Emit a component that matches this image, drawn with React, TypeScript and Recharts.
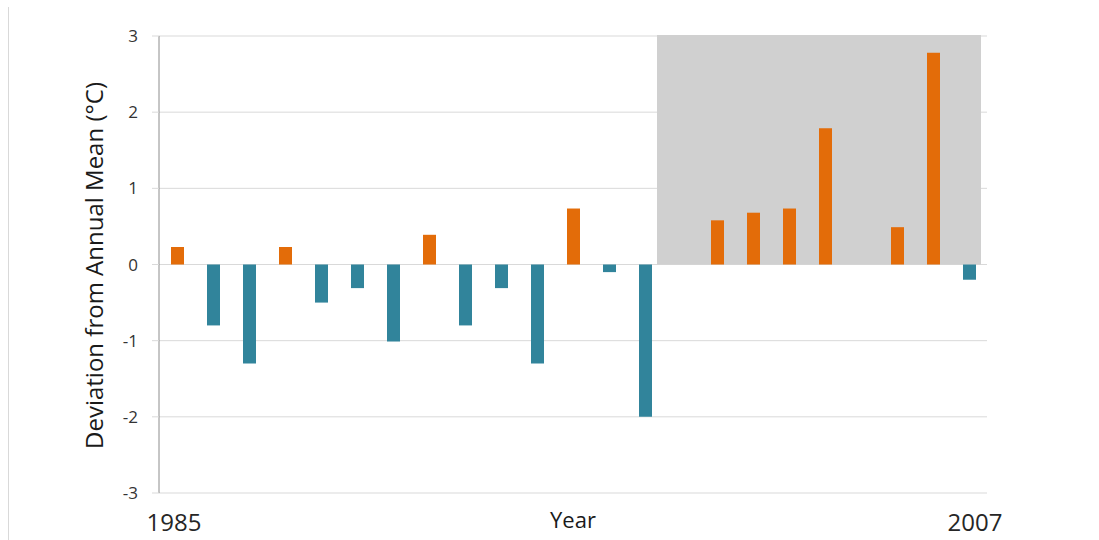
import React from "react";
import { ComposedChart, Bar, Cell, XAxis, YAxis, CartesianGrid, ReferenceArea, Label } from "recharts";

// yearly deviation from the annual mean, °C
const years = [
  "1985", "1986", "1987", "1988", "1989", "1990", "1991", "1992", "1993", "1994", "1995", "1996",
  "1997", "1998", "1999", "2000", "2001", "2002", "2003", "2004", "2005", "2006", "2007",
];
const deviations = [
  0.23, -0.8, -1.3, 0.23, -0.5, -0.31, -1.01, 0.39, -0.8, -0.31, -1.3, 0.735,
  -0.1, -2.0, 0, 0.58, 0.68, 0.735, 1.79, 0, 0.49, 2.78, -0.2,
];
const yTicks = [-3, -2, -1, 0, 1, 2, 3];
const xTickLabels = ["1985", "2007"];
// highlighted period
const shadeFrom = "1999";
const shadeTo = "2007";

const FONT = "'Open Sans', sans-serif";
const WARM = "#e36c09";
const COOL = "#31849b";

const data = years.map((year, i) => ({ year, value: deviations[i] }));

function YearTick(props: any) {
  const { x, y, payload } = props;
  const dx = payload.value === xTickLabels[0] ? -3 : 6;
  return (
    <text x={x + dx} y={y + 30} textAnchor="middle" fontSize={24} fontFamily={FONT} fill="#262626">
      {payload.value}
    </text>
  );
}

function YTitle(props: any) {
  const { viewBox } = props;
  const cy = viewBox.y + viewBox.height / 2 + 1;
  return (
    <text
      x={93}
      y={cy}
      transform={`rotate(-90 93 ${cy})`}
      textAnchor="middle"
      dominantBaseline="central"
      fontSize={24}
      fontFamily={FONT}
      fill="#1a1a1a"
    >
      Deviation from Annual Mean (°C)
    </text>
  );
}

// the shaded block in the original sits a little left of the category bands
function Shade(props: any) {
  const { x, y, width, height } = props;
  const band = width / 9;
  return <rect x={x - band / 6} y={y - 1} width={width} height={height + 1} fill="#d0d0d0" />;
}

export default function App() {
  return (
    <div style={{ position: "fixed", left: 0, top: 0, width: 1099, height: 540, background: "#fff" }}>
      <div style={{ position: "absolute", left: 8, top: 7, width: 1, height: 533, background: "#d9d9d9" }} />
      <ComposedChart
        width={1099}
        height={540}
        data={data}
        barSize={13}
        margin={{ top: 36, right: 112, left: 0, bottom: 0 }}
      >
        <CartesianGrid vertical={false} stroke="#d9d9d9" />
        <XAxis
          dataKey="year"
          ticks={xTickLabels}
          interval={0}
          tick={<YearTick />}
          axisLine={false}
          tickLine={false}
          height={47}
        >
          <Label value="Year" position="insideBottom" offset={12} fontSize={22} fontFamily={FONT} fill="#1a1a1a" />
        </XAxis>
        <YAxis
          domain={[-3, 3]}
          ticks={yTicks}
          width={159}
          axisLine={{ stroke: "#8c8c8c" }}
          tickLine={{ stroke: "#d9d9d9" }}
          tickSize={7}
          tickMargin={14}
          tick={{ fontSize: 17, fontFamily: FONT, fill: "#333" }}
        >
          <Label content={<YTitle />} />
        </YAxis>
        <ReferenceArea x1={shadeFrom} x2={shadeTo} y1={0} y2={3} shape={<Shade />} />
        <Bar dataKey="value" isAnimationActive={false}>
          {data.map((d) => (
            <Cell key={d.year} fill={d.value >= 0 ? WARM : COOL} />
          ))}
        </Bar>
      </ComposedChart>
    </div>
  );
}
